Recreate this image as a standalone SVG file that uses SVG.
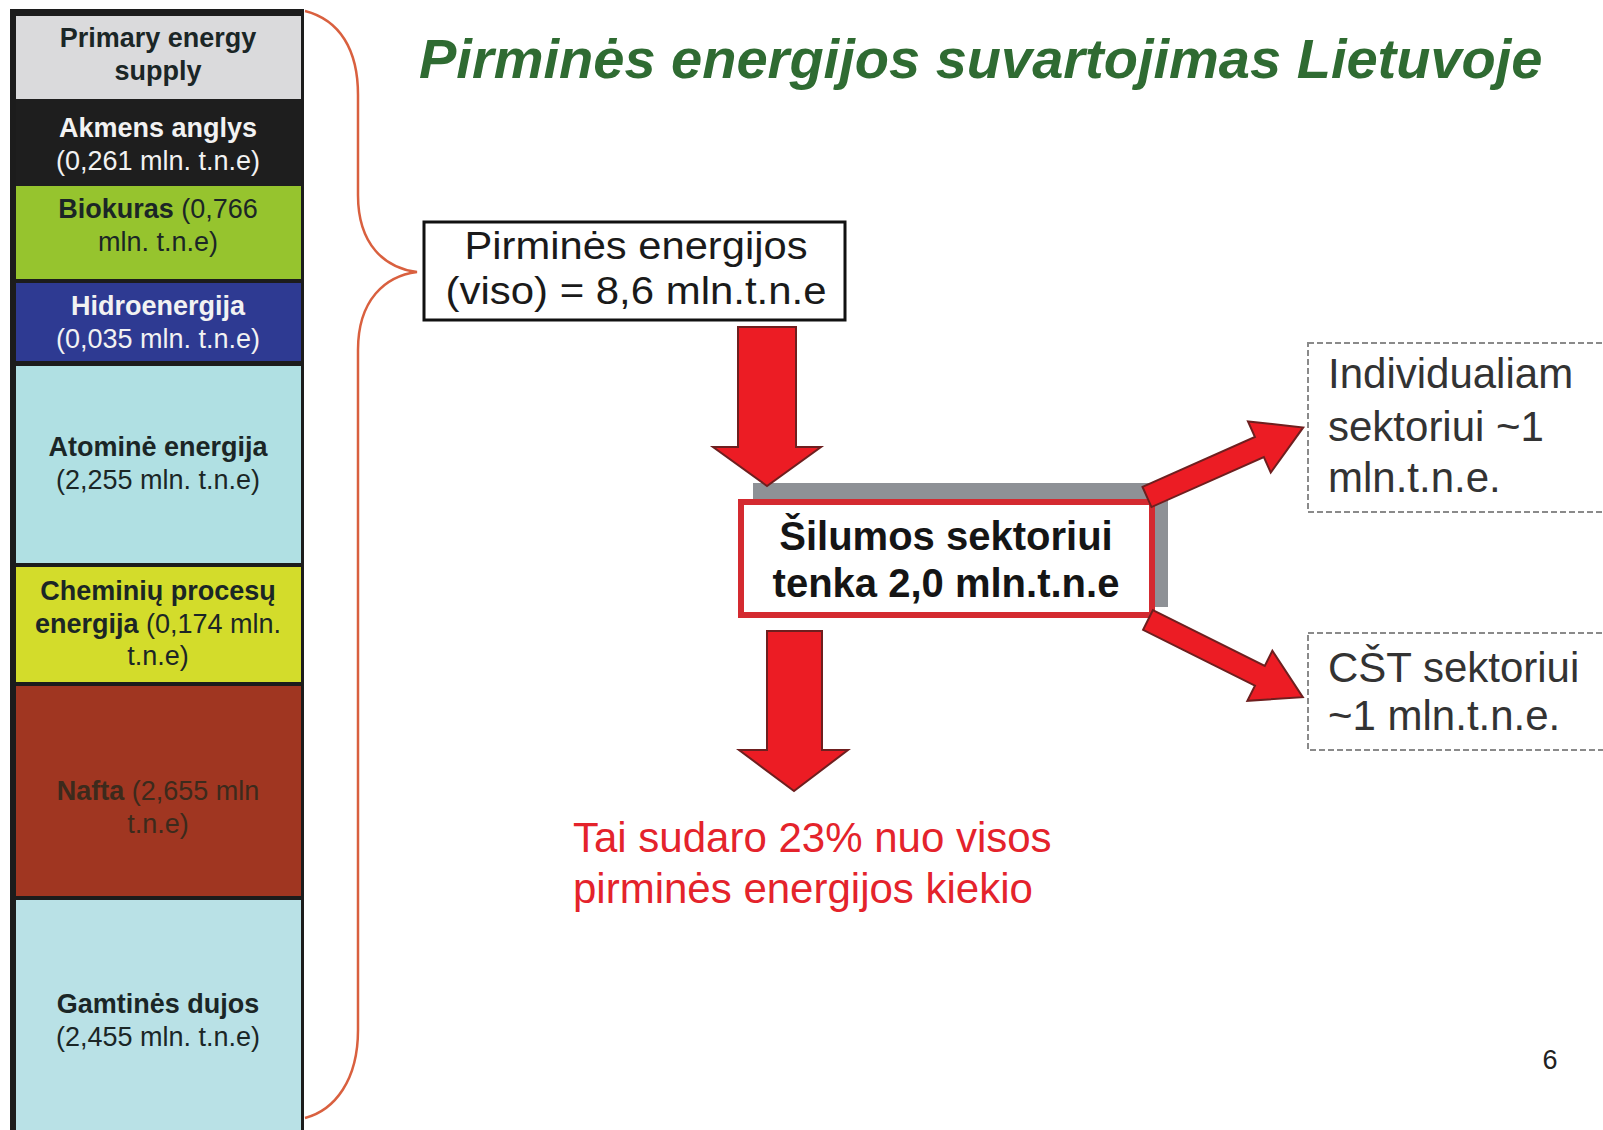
<svg xmlns="http://www.w3.org/2000/svg" width="1603" height="1130" viewBox="0 0 1603 1130">
<defs>
<style>
.lt{font-family:"Liberation Sans",Arial,sans-serif;font-size:27px;text-anchor:middle}
.b{font-weight:bold}
.dk{fill:#1b2626}
.wh{fill:#f2f2f2}
.big{font-family:"Liberation Sans",Arial,sans-serif;font-size:39px;fill:#1a1a1a}
.arr{fill:#ec1c24;stroke:#6e1f1f;stroke-width:2;stroke-linejoin:miter}
.dash{fill:none;stroke:#8a8a8a;stroke-width:2;stroke-dasharray:6 3}
</style>
</defs>
<rect width="1603" height="1130" fill="#ffffff"/>

<g id="title">
<text x="419" y="78" font-family="Liberation Sans, Arial, sans-serif" font-size="56" font-weight="bold" font-style="italic" fill="#2f6b32">Pirminės energijos suvartojimas Lietuvoje</text>
</g>

<g id="supply-column">
<rect x="10" y="9" width="294" height="1125" fill="#1c1c1c"/>
<rect x="16" y="16" width="285" height="83" fill="#dadadc"/>
<rect x="16" y="99" width="285" height="87" fill="#1e1e1e"/>
<rect x="16" y="186" width="285" height="93" fill="#96c42e"/>
<rect x="16" y="283" width="285" height="78" fill="#2e3a92"/>
<rect x="16" y="366" width="285" height="197" fill="#b0e0e3"/>
<rect x="16" y="567" width="285" height="115" fill="#d3dc2b"/>
<rect x="16" y="686" width="285" height="210" fill="#a03621"/>
<rect x="16" y="900" width="285" height="230" fill="#b9e1e6"/>
</g>

<g id="primary-energy-supply">
<text class="lt b dk" x="158" y="47">Primary energy</text>
<text class="lt b dk" x="158" y="80">supply</text>
</g>
<g id="akmens-anglys">
<text class="lt b wh" x="158" y="137">Akmens anglys</text>
<text class="lt wh" x="158" y="170">(0,261 mln. t.n.e)</text>
</g>
<g id="biokuras">
<text class="lt dk" x="158" y="218"><tspan class="b">Biokuras</tspan> (0,766</text>
<text class="lt dk" x="158" y="251">mln. t.n.e)</text>
</g>
<g id="hidroenergija">
<text class="lt b wh" x="158" y="315">Hidroenergija</text>
<text class="lt wh" x="158" y="348">(0,035 mln. t.n.e)</text>
</g>
<g id="atomine-energija">
<text class="lt b dk" x="158" y="456">Atominė energija</text>
<text class="lt dk" x="158" y="489">(2,255 mln. t.n.e)</text>
</g>
<g id="cheminiu-procesu">
<text class="lt b dk" x="158" y="600">Cheminių procesų</text>
<text class="lt dk" x="158" y="633"><tspan class="b">energija</tspan> (0,174 mln.</text>
<text class="lt dk" x="158" y="665">t.n.e)</text>
</g>
<g id="nafta">
<text class="lt" x="158" y="800" fill="#3c2a1c"><tspan class="b">Nafta</tspan> (2,655 mln</text>
<text class="lt" x="158" y="833" fill="#3c2a1c">t.n.e)</text>
</g>
<g id="gamtines-dujos">
<text class="lt b dk" x="158" y="1013">Gamtinės dujos</text>
<text class="lt dk" x="158" y="1046">(2,455 mln. t.n.e)</text>
</g>

<g id="brace">
<path d="M305 11 C340 20 358 50 358 95 L358 195 C358 245 385 268 417 272 C385 276 358 300 358 350 L358 1030 C358 1080 335 1110 305 1118" fill="none" stroke="#d9603f" stroke-width="2.5"/>
</g>

<g id="total-box">
<rect x="424" y="222" width="421" height="98" fill="#ffffff" stroke="#111111" stroke-width="3"/>
<text class="big" x="636" y="259" text-anchor="middle" textLength="343" lengthAdjust="spacingAndGlyphs">Pirminės energijos</text>
<text class="big" x="636" y="304" text-anchor="middle" textLength="381" lengthAdjust="spacingAndGlyphs">(viso) = 8,6 mln.t.n.e</text>
</g>

<g id="heat-sector">
<rect x="753" y="483" width="415" height="124" fill="#8e9196"/>
<rect x="741" y="502" width="411" height="113" fill="#ffffff" stroke="#d42a30" stroke-width="6"/>
<text x="946" y="550" font-family="Liberation Sans, Arial, sans-serif" font-size="40" font-weight="bold" fill="#151515" text-anchor="middle">Šilumos sektoriui</text>
<text x="946" y="597" font-family="Liberation Sans, Arial, sans-serif" font-size="40" font-weight="bold" fill="#151515" text-anchor="middle">tenka 2,0 mln.t.n.e</text>
</g>

<g id="individual-sector">
<rect x="1308" y="343" width="310" height="169" class="dash"/>
<text x="1328" y="388" font-family="Liberation Sans, Arial, sans-serif" font-size="42" fill="#333333">Individualiam</text>
<text x="1328" y="441" font-family="Liberation Sans, Arial, sans-serif" font-size="42" fill="#333333">sektoriui ~1</text>
<text x="1328" y="492" font-family="Liberation Sans, Arial, sans-serif" font-size="42" fill="#333333">mln.t.n.e.</text>
</g>

<g id="cst-sector">
<rect x="1308" y="633" width="310" height="117" class="dash"/>
<text x="1328" y="682" font-family="Liberation Sans, Arial, sans-serif" font-size="42" fill="#333333">CŠT sektoriui</text>
<text x="1328" y="730" font-family="Liberation Sans, Arial, sans-serif" font-size="42" fill="#333333">~1 mln.t.n.e.</text>
</g>

<g id="share-note">
<text x="573" y="852" font-family="Liberation Sans, Arial, sans-serif" font-size="42" fill="#e4232b">Tai sudaro 23% nuo visos</text>
<text x="573" y="903" font-family="Liberation Sans, Arial, sans-serif" font-size="42" fill="#e4232b">pirminės energijos kiekio</text>
</g>

<g id="page-number">
<text x="1550" y="1069" font-family="Liberation Sans, Arial, sans-serif" font-size="27" fill="#222222" text-anchor="middle">6</text>
</g>

<g id="connectors">
<polygon class="arr" points="738,327 796,327 796,447 821,447 767,486 713,447 738,447"/>
<polygon class="arr" points="767,631 822,631 822,750 848,750 794,791 739,750 767,750"/>
<g transform="translate(1147,497) rotate(-24)">
<polygon class="arr" points="0,-11 123,-11 123,-28 171,0 123,28 123,11 0,11"/>
</g>
<g transform="translate(1148,620) rotate(26.5)">
<polygon class="arr" points="0,-11 125,-11 125,-28 173,0 125,28 125,11 0,11"/>
</g>
</g>
</svg>
